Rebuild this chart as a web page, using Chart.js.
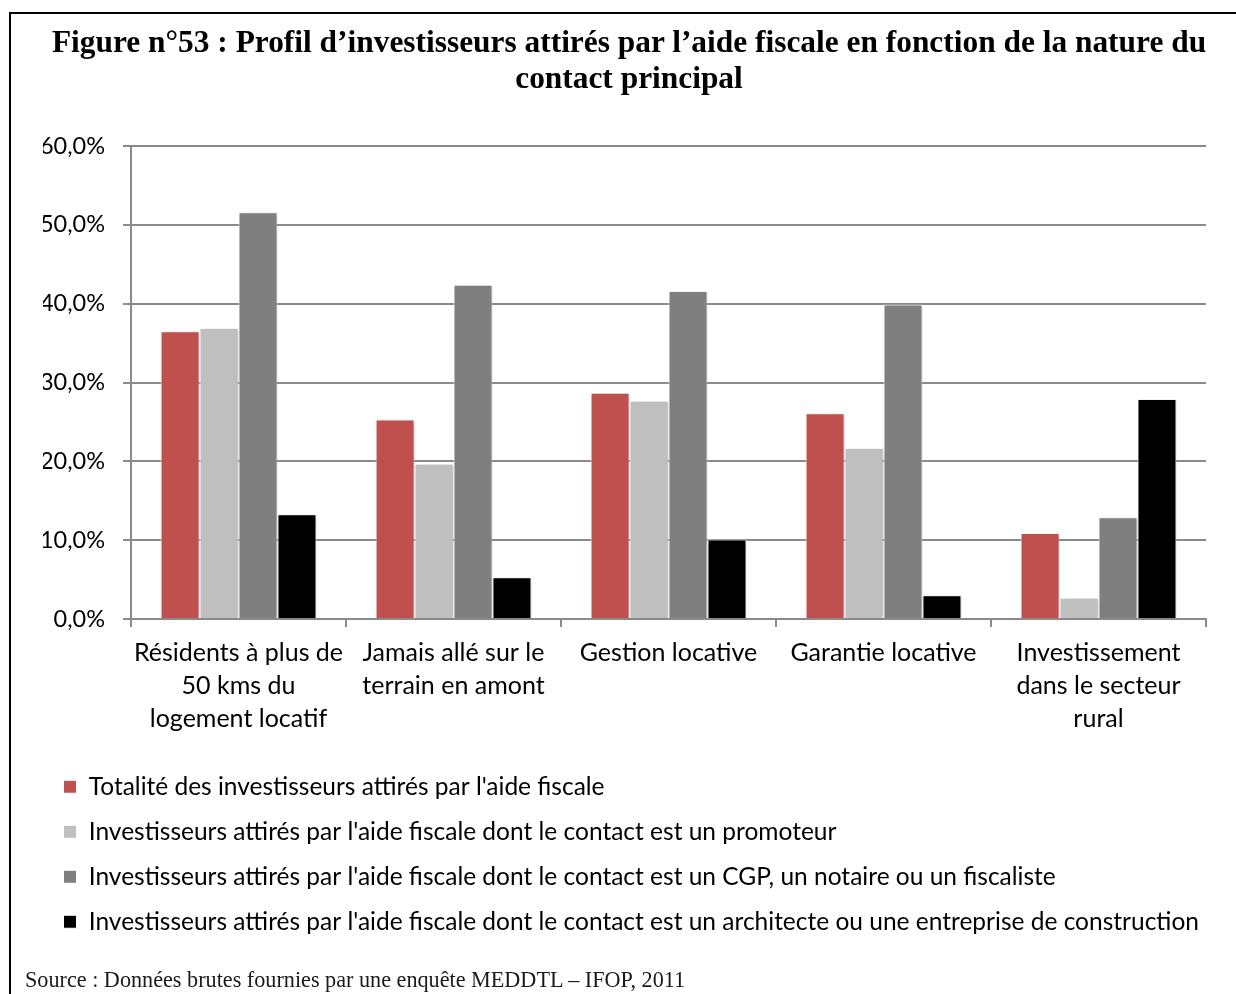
<!DOCTYPE html>
<html>
<head>
<meta charset="utf-8">
<script src="https://cdn.jsdelivr.net/npm/chart.js@4/dist/chart.umd.min.js"></script>
<style>
  html, body { margin: 0; padding: 0; background: #fff; overflow: hidden; }
  #frame { position: absolute; left: 9px; top: 12px; width: 1400px; height: 1200px;
           border-top: 2px solid #000; border-left: 2px solid #000; }
  #title { position: absolute; left: 22px; width: 1214px; top: 24px; text-align: center;
           font: bold 31.4px "Liberation Serif", serif; line-height: 36px; color: #000; }
  #source { position: absolute; left: 25px; top: 967px;
            font: 22.2px "Liberation Serif", serif; color: #1a1a1a; white-space: nowrap; }
  #wrap { position: absolute; left: 0; top: 0; width: 1236px; height: 994px; }
</style>
</head>
<body>
<div id="frame"></div>
<div id="wrap"><canvas id="chart" width="1236" height="994"></canvas></div>
<div id="title">Figure n°53 : Profil d’investisseurs attirés par l’aide fiscale en fonction de la nature du<br>contact principal</div>
<div id="source">Source : Données brutes fournies par une enquête MEDDTL – IFOP, 2011</div>
<script>
const categories = [
    ['Résidents à plus de', '50 kms du', 'logement locatif'],
    ['Jamais allé sur le', 'terrain en amont'],
    'Gestion locative',
    'Garantie locative',
    ['Investissement', 'dans le secteur', 'rural']
];
const seriesNames = [
    "Totalité des investisseurs attirés par l'aide fiscale",
    "Investisseurs attirés par l'aide fiscale dont le contact est un promoteur",
    "Investisseurs attirés par l'aide fiscale dont le contact est un CGP, un notaire ou un fiscaliste",
    "Investisseurs attirés par l'aide fiscale dont le contact est un architecte ou une entreprise de construction"
];
const totalite = [36.5, 25.3, 28.7, 26.1, 10.9];
const promoteur = [36.9, 19.7, 27.7, 21.7, 2.7];
const cgp = [51.6, 42.4, 41.6, 39.9, 12.9];
const architecte = [13.3, 5.3, 10.1, 3.0, 27.9];
const yTicks = [0, 10, 20, 30, 40, 50, 60];

const colors = ['#C0504D', '#BFBFBF', '#7F7F7F', '#000000'];
const fontFamily = 'Lato, "Open Sans", sans-serif';
const gridColor = '#8a8a8a';

const barShadow = {
    id: 'barShadow',
    beforeDatasetsDraw(chart) {
        const ctx = chart.ctx;
        ctx.save();
        ctx.shadowColor = 'rgba(0,0,0,0.22)';
        ctx.shadowBlur = 4;
        ctx.shadowOffsetX = 2;
        ctx.shadowOffsetY = 1;
    },
    afterDatasetsDraw(chart) {
        chart.ctx.restore();
    }
};

const data = {
    labels: categories,
    datasets: [totalite, promoteur, cgp, architecte].map((values, i) => ({
        label: seriesNames[i],
        data: values,
        backgroundColor: colors[i],
        borderColor: '#ffffff',
        borderWidth: 1,
        barPercentage: 1,
        categoryPercentage: 0.725
    }))
};

const options = {
    responsive: false,
    animation: false,
    layout: { padding: { left: 43, right: 30, top: 146, bottom: 50 } },
    plugins: {
        title: { display: false },
        tooltip: { enabled: false },
        legend: {
            position: 'bottom',
            align: 'start',
            labels: {
                color: '#000',
                font: { family: fontFamily, size: 24.5 },
                boxWidth: 13,
                boxHeight: 13,
                padding: 20.5
            }
        }
    },
    scales: {
        x: {
            grid: { drawOnChartArea: false, color: gridColor, lineWidth: 2, tickLength: 8 },
            border: { color: gridColor, width: 2 },
            ticks: {
                color: '#000',
                font: { family: fontFamily, size: 25, lineHeight: 1.31 },
                padding: 10,
                maxRotation: 0,
                autoSkip: false
            },
            afterFit(scale) { scale.height = 135; }
        },
        y: {
            min: 0,
            max: 60,
            afterBuildTicks(scale) { scale.ticks = yTicks.map(v => ({ value: v })); },
            afterFit(scale) { scale.width = 88; },
            grid: { color: gridColor, lineWidth: 2, tickLength: 8 },
            border: { color: gridColor, width: 2 },
            ticks: {
                color: '#000',
                font: { family: fontFamily, size: 23.5 },
                padding: 18,
                callback: v => v.toFixed(1).replace('.', ',') + '%'
            }
        }
    }
};

new Chart('chart', { type: 'bar', data, options, plugins: [barShadow] });
</script>
</body>
</html>
